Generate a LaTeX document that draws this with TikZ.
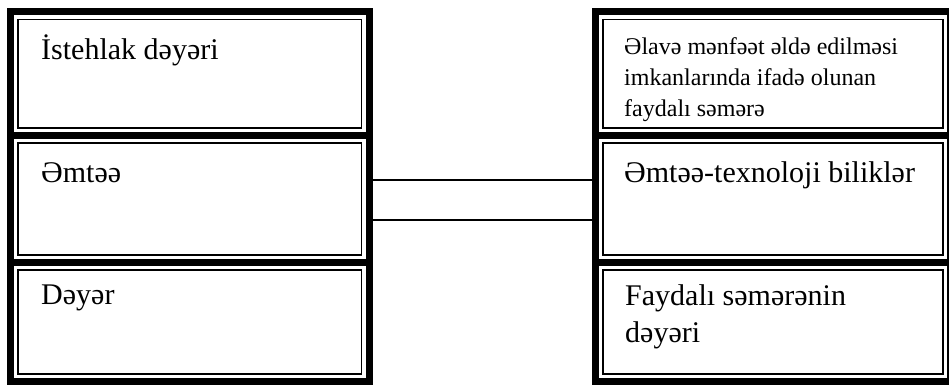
\documentclass[tikz,border=0pt]{standalone}
\usepackage{fontspec}
\setmainfont{Liberation Serif}
\begin{document}
\begin{tikzpicture}[x=1pt,y=-1pt,
  cellbox/.style={draw, line width=7pt, inner sep=0pt, rectangle,
    path picture={\draw[line width=1.5pt]
      ([xshift=7.5pt,yshift=-7.5pt]path picture bounding box.north west) rectangle
      ([xshift=-7.5pt,yshift=7.5pt]path picture bounding box.south east);}},
  leftcol/.style={cellbox, minimum width=358.5pt},
  rightcol/.style={cellbox, minimum width=355pt},
  celltext/.style={anchor=base west, inner sep=0pt, align=left, font=\fontsize{30}{37}\selectfont},
  smalltext/.style={anchor=base west, inner sep=0pt, align=left, font=\fontsize{24}{31}\selectfont},
  link/.style={draw, line width=1.2pt}
]
\useasboundingbox (0,0) rectangle (949,385);
\clip (0,0) rectangle (949,385);
\fill[white] (0,0) rectangle (949,385);
% left column
\node[leftcol, minimum height=123.5pt] (L1) at (189.75,73.75) {};
\node[leftcol, minimum height=127pt] (L2) at (189.75,199) {};
\node[leftcol, minimum height=119pt] (L3) at (189.75,322) {};
% right column
\node[rightcol, minimum height=123.5pt] (R1) at (773,73.75) {};
\node[rightcol, minimum height=127pt] (R2) at (773,199) {};
\node[rightcol, minimum height=119pt] (R3) at (773,322) {};
% texts (multi-line nodes are placed by the baseline of their last line)
\node[celltext] (t1) at (41,60) {İstehlak dəyəri};
\node[celltext] (t2) at (41,182) {Əmtəə};
\node[celltext] (t3) at (41,304) {Dəyər};
\node[smalltext] (t4) at (624,117) {Əlavə mənfəət əldə edilməsi\\imkanlarında ifadə olunan\\faydalı səmərə};
\node[celltext] (t5) at (624,182) {Əmtəə-texnoloji biliklər};
\node[celltext] (t6) at (625,342) {Faydalı səmərənin\\dəyəri};
% connectors
\draw[link] ([yshift=19pt]L2.east) -- ([yshift=19pt]R2.west);
\draw[link] ([yshift=-21pt]L2.east) -- ([yshift=-21pt]R2.west);
\end{tikzpicture}
\end{document}
